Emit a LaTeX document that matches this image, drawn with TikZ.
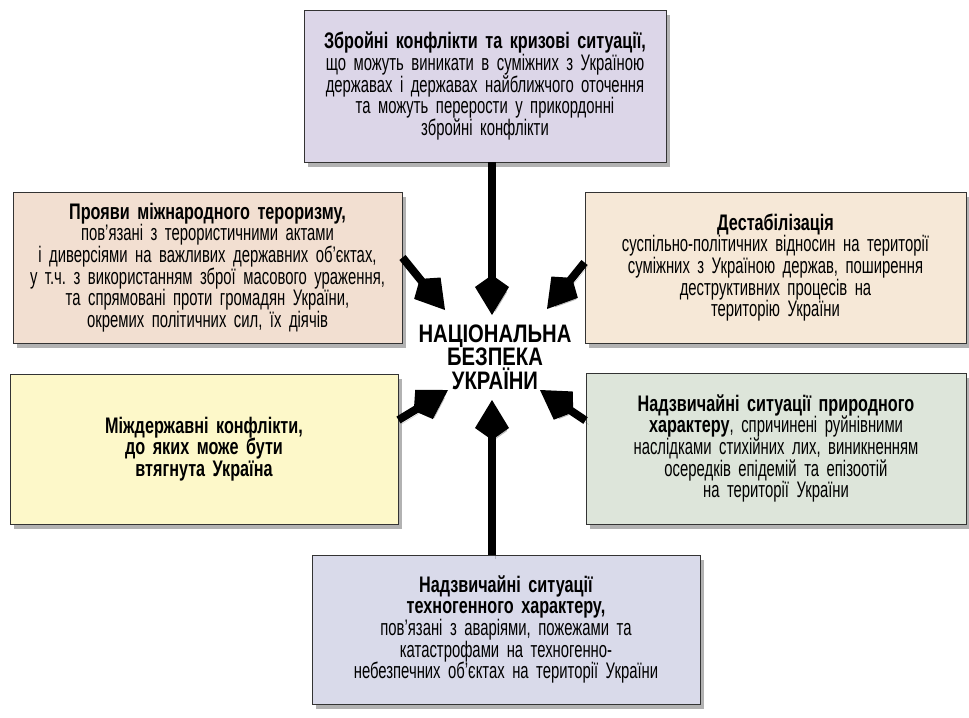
\documentclass[tikz,border=0pt]{standalone}
\usepackage{fontspec}
\setmainfont{Liberation Sans}[FakeStretch=0.66, WordSpace=0.72, BoldFeatures={FakeStretch=0.72}]
\newfontfamily\capsfont{Liberation Sans}[FakeStretch=0.8]
\usepackage{xcolor}
\usetikzlibrary{shadows, arrows.meta, calc}
\frenchspacing

\definecolor{lilac}{HTML}{DCD6E8}
\definecolor{peach}{HTML}{F2DFD1}
\definecolor{cream}{HTML}{F6E8D7}
\definecolor{lemon}{HTML}{FDF8C9}
\definecolor{sage}{HTML}{DDE5DA}
\definecolor{periwinkle}{HTML}{D9DAEA}

\begin{document}
\begin{tikzpicture}[
    x=0.025cm, y=-0.025cm,
    threatbox/.style={
        rectangle,
        draw=black!80,
        line width=0.6pt,
        inner sep=0pt,
        align=center,
        font=\fontsize{16}{15.4}\selectfont,
        drop shadow={shadow xshift=0.1cm, shadow yshift=-0.12cm, opacity=0.3, fill=black}
    },
    bigarrow/.style={
        line width=0.2cm,
        -{Kite[length=1.0cm, width=0.85cm, inset=0.3cm]},
        preaction={draw=black, opacity=0.18, transform canvas={shift={(0.08cm,-0.1cm)}}}
    }
]
    \useasboundingbox (0,0) rectangle (969,718);

    % Centre
    \node[font=\capsfont\bfseries\fontsize{18}{16.8}\selectfont, align=center, inner sep=0pt] (nacbez) at (495,357)
        {НАЦІОНАЛЬНА\\БЕЗПЕКА\\УКРАЇНИ};

    % Threats
    \node[threatbox, fill=lilac, minimum width=9.05cm, minimum height=3.8cm, text width=8.9cm] (zbroini) at (485,86)
        {\textbf{Збройні конфлікти та кризові ситуації,}\\
         що можуть виникати в суміжних з Україною\\
         державах і державах найближчого оточення\\
         та можуть перерости у прикордонні\\
         збройні конфлікти};
    \node[threatbox, fill=peach, minimum width=9.725cm, minimum height=3.775cm, text width=9.5cm] (teror) at (207.5,267.5)
        {\textbf{Прояви міжнародного тероризму,}\\
         пов’язані з терористичними актами\\
         і диверсіями на важливих державних об'єктах,\\
         у т.ч. з використанням зброї масового ураження,\\
         та спрямовані проти громадян України,\\
         окремих політичних сил, їх діячів};
    \node[threatbox, fill=cream, minimum width=9.525cm, minimum height=3.775cm, text width=9.3cm] (destab) at (775.5,267.5)
        {\textbf{Дестабілізація}\\
         суспільно-політичних відносин на території\\
         суміжних з Україною держав, поширення\\
         деструктивних процесів на\\
         територію України};
    \node[threatbox, fill=lemon, minimum width=9.7cm, minimum height=3.75cm, text width=9.5cm,
          font=\fontsize{16}{15.4}\selectfont\bfseries] (mizh) at (204,449)
        {Міждержавні конфлікти,\\
         до яких може бути\\
         втягнута Україна};
    \node[threatbox, fill=sage, minimum width=9.5cm, minimum height=3.775cm, text width=9.3cm] (pryrod) at (776,448.5)
        {\textbf{Надзвичайні ситуації природного}\\
         \textbf{характеру}, спричинені руйнівними\\
         наслідками стихійних лих, виникненням\\
         осередків епідемій та епізоотій\\
         на території України};
    \node[threatbox, fill=periwinkle, minimum width=9.7cm, minimum height=3.725cm, text width=9.5cm] (tekhn) at (506,629.5)
        {\textbf{Надзвичайні ситуації}\\
         \textbf{техногенного характеру,}\\
         пов’язані з аваріями, пожежами та\\
         катастрофами на техногенно-\\
         небезпечних об'єктах на території України};

    % Arrow tips
    \coordinate (tipN) at (492,315);
    \coordinate (tipNW) at (445,310);
    \coordinate (tipNE) at (547,309);
    \coordinate (tipSW) at (448,390);
    \coordinate (tipSE) at (540,390);
    \coordinate (tipS) at (492,400);

    % Arrows
    \draw[bigarrow] (zbroini.south -| tipN) -- (tipN);
    \draw[bigarrow] ($(teror.east)+(0,-10)$) -- (tipNW);
    \draw[bigarrow] ($(destab.west)+(0,-5)$) -- (tipNE);
    \draw[bigarrow] ($(mizh.east)+(0,-29)$) -- (tipSW);
    \draw[bigarrow] ($(pryrod.west)+(0,-28)$) -- (tipSE);
    \draw[bigarrow] (tekhn.north -| tipS) -- (tipS);
\end{tikzpicture}
\end{document}
